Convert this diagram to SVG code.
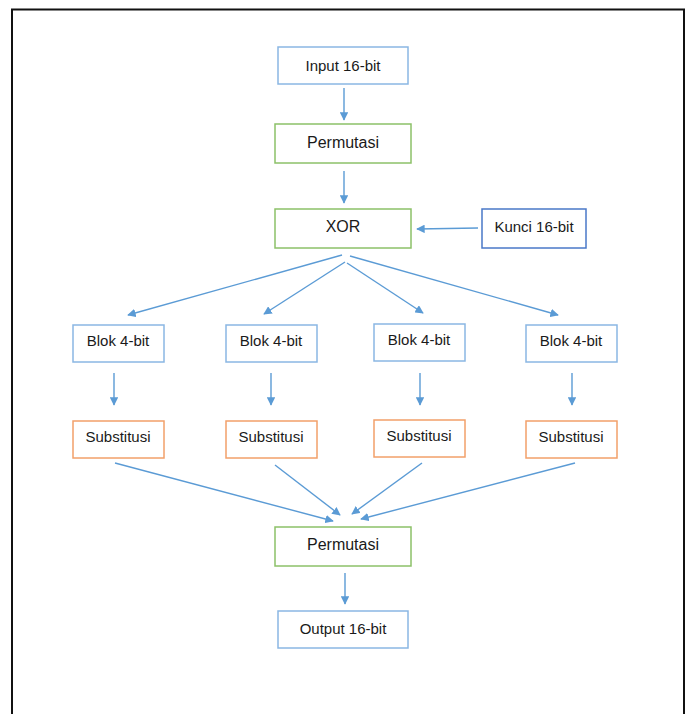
<svg xmlns="http://www.w3.org/2000/svg" width="688" height="714" viewBox="0 0 688 714">
  <style>
    .box { fill: #ffffff; stroke-width: 1.5; }
    .blue { stroke: #8AB7E3; }
    .dblue { stroke: #4A78C8; }
    .green { stroke: #8CC168; }
    .orange { stroke: #F2A06A; }
    .lbl { font-family: "Liberation Sans", Arial, sans-serif; font-size: 15px; fill: #1a1a1a; text-anchor: middle; }
    .lbl-lg { font-size: 16px; }
    .edge { stroke: #5B9BD5; stroke-width: 1.4; fill: none; marker-end: url(#arrow); }
  </style>
  <defs>
    <marker id="arrow" viewBox="0 0 10 10" refX="9" refY="5" markerWidth="8.5" markerHeight="8.5" markerUnits="userSpaceOnUse" orient="auto">
      <path d="M0,0 L10,5 L0,10 z" fill="#5B9BD5"/>
    </marker>
  </defs>

  <rect width="688" height="714" fill="#ffffff"/>
  <!-- outer frame (open at the bottom) -->
  <path d="M12,716 L12,9.5 L684,9.5 L684,716" fill="none" stroke="#111111" stroke-width="2"/>

  <g id="connectors">
    <line class="edge" x1="344" y1="88" x2="344" y2="120"/>
    <line class="edge" x1="344" y1="171" x2="344" y2="203"/>
    <line class="edge" x1="478" y1="228" x2="417" y2="229"/>
    <line class="edge" x1="342" y1="255" x2="128" y2="315"/>
    <line class="edge" x1="345" y1="262" x2="264" y2="314"/>
    <line class="edge" x1="347" y1="263" x2="423" y2="313"/>
    <line class="edge" x1="350" y1="256" x2="558" y2="315"/>
    <line class="edge" x1="114" y1="373" x2="114" y2="405"/>
    <line class="edge" x1="271" y1="373" x2="271" y2="405"/>
    <line class="edge" x1="420" y1="373" x2="420" y2="405"/>
    <line class="edge" x1="572" y1="373" x2="572" y2="405"/>
    <line class="edge" x1="115" y1="463" x2="333" y2="521"/>
    <line class="edge" x1="275" y1="465" x2="340" y2="515"/>
    <line class="edge" x1="422" y1="463" x2="352" y2="514"/>
    <line class="edge" x1="575" y1="463" x2="361" y2="519"/>
    <line class="edge" x1="345" y1="573" x2="345" y2="604"/>
  </g>

  <g id="input">
    <rect class="box blue" x="278" y="47" width="130" height="37"/>
    <text class="lbl" x="343" y="71">Input 16-bit</text>
  </g>
  <g id="permutasi1">
    <rect class="box green" x="275" y="124" width="136" height="39"/>
    <text class="lbl lbl-lg" x="343" y="148">Permutasi</text>
  </g>
  <g id="xor">
    <rect class="box green" x="275" y="209" width="136" height="39"/>
    <text class="lbl lbl-lg" x="343" y="232">XOR</text>
  </g>
  <g id="kunci">
    <rect class="box dblue" x="482" y="209" width="104" height="39"/>
    <text class="lbl" x="534" y="232">Kunci 16-bit</text>
  </g>

  <g id="blok1">
    <rect class="box blue" x="73" y="325" width="91" height="37"/>
    <text class="lbl" x="118" y="346">Blok 4-bit</text>
  </g>
  <g id="blok2">
    <rect class="box blue" x="226" y="325" width="91" height="37"/>
    <text class="lbl" x="271" y="346">Blok 4-bit</text>
  </g>
  <g id="blok3">
    <rect class="box blue" x="374" y="324" width="91" height="37"/>
    <text class="lbl" x="419" y="345">Blok 4-bit</text>
  </g>
  <g id="blok4">
    <rect class="box blue" x="526" y="325" width="91" height="37"/>
    <text class="lbl" x="571" y="346">Blok 4-bit</text>
  </g>

  <g id="substitusi1">
    <rect class="box orange" x="73" y="421" width="91" height="37"/>
    <text class="lbl" x="118" y="442">Substitusi</text>
  </g>
  <g id="substitusi2">
    <rect class="box orange" x="226" y="421" width="91" height="37"/>
    <text class="lbl" x="271" y="442">Substitusi</text>
  </g>
  <g id="substitusi3">
    <rect class="box orange" x="374" y="420" width="91" height="37"/>
    <text class="lbl" x="419" y="441">Substitusi</text>
  </g>
  <g id="substitusi4">
    <rect class="box orange" x="526" y="421" width="91" height="37"/>
    <text class="lbl" x="571" y="442">Substitusi</text>
  </g>

  <g id="permutasi2">
    <rect class="box green" x="275" y="527" width="136" height="39"/>
    <text class="lbl lbl-lg" x="343" y="550">Permutasi</text>
  </g>
  <g id="output">
    <rect class="box blue" x="278" y="611" width="130" height="37"/>
    <text class="lbl" x="343" y="634">Output 16-bit</text>
  </g>
</svg>
